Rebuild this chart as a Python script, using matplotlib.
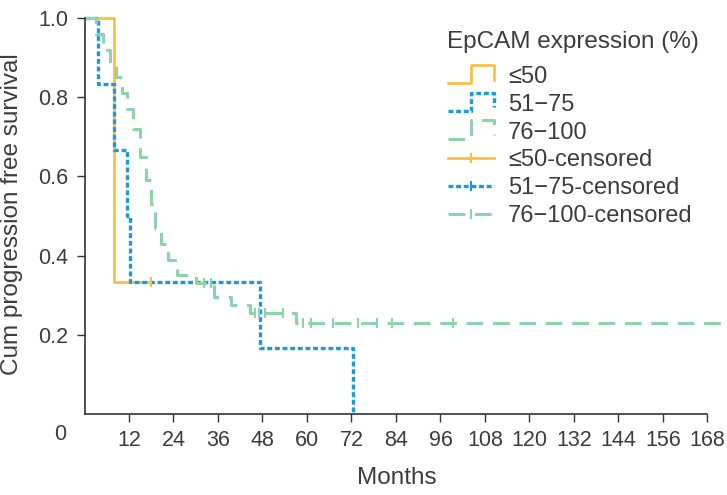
import matplotlib
matplotlib.use("Agg")
import matplotlib.pyplot as plt
from matplotlib.lines import Line2D
from matplotlib.legend_handler import HandlerLine2D

plt.rcParams['font.family'] = ['Liberation Sans', 'DejaVu Sans']
plt.rcParams['lines.scale_dashes'] = False

# Kaplan-Meier step data (time of drop, survival after drop)
low_t = [0, 8, 18]
low_s = [1.0, 0.333, 0.333]
low_cens_t = [18]
low_cens_s = [0.333]

mid_t = [0, 3.7, 8, 11.4, 12.3, 47.3, 72.4]
mid_s = [1.0, 0.833, 0.667, 0.5, 0.333, 0.167, 0.0]

high_t = [0, 3, 5, 7, 8.5, 10, 11.5, 13, 15, 16.5, 18, 19, 20.5, 22.5, 25,
          30, 35, 39.5, 44.5, 57, 173]
high_s = [1.0, 0.96, 0.92, 0.88, 0.85, 0.81, 0.77, 0.72, 0.65, 0.59, 0.53,
          0.47, 0.43, 0.39, 0.35, 0.33, 0.295, 0.275, 0.255, 0.23, 0.23]
high_cens_t = [32.2, 34, 46, 47, 48.7, 53.5, 59, 61, 67, 73.7, 79, 83, 99.4]
high_cens_s = [0.33, 0.33, 0.255, 0.255, 0.255, 0.255, 0.23, 0.23, 0.23,
               0.23, 0.23, 0.23, 0.23]

x_ticks = list(range(12, 169, 12))
y_ticks = [0.2, 0.4, 0.6, 0.8, 1.0]
y_labels = ['0.2', '0.4', '0.6', '0.8', '1.0']
legend_labels = ['≤50', '51−75', '76−100', '≤50-censored', '51−75-censored',
                 '76−100-censored']

ORANGE = '#fbbd3a'
BLUE = '#1a9ad8'
GREEN = '#8dd4aa'
TXT = '#3d3d3d'

BLUE_DASH = (3.5, 2.0)
GREEN_DASH = (12, 7)


class StepHandler(HandlerLine2D):
    # draws the little step glyph used for the survival curves
    def create_artists(self, legend, orig_handle, xdescent, ydescent,
                       width, height, fontsize, trans):
        x0 = -xdescent
        y0 = -ydescent
        xs = [x0, x0 + 0.5 * width, x0 + 0.5 * width, x0 + width, x0 + width]
        ys = [y0, y0, y0 + 1.1 * height, y0 + 1.1 * height, y0 + 0.2 * height]
        line = Line2D(xs, ys)
        self.update_prop(line, orig_handle, legend)
        line.set_marker('None')
        line.set_transform(trans)
        return [line]


fig = plt.figure(figsize=(7.27, 4.95), dpi=100)
ax = fig.add_axes([84.5 / 727, 81 / 495, (726 - 84.5) / 727, 396 / 495])

l1, = ax.step(low_t, low_s, where='post', color=ORANGE, lw=1.9, clip_on=False)
l2, = ax.step(mid_t, mid_s, where='post', color=BLUE, lw=2.4, clip_on=False,
              dashes=BLUE_DASH)
l3, = ax.step(high_t, high_s, where='post', color=GREEN, lw=2.2, clip_on=False,
              dashes=GREEN_DASH)

ax.plot(low_cens_t, low_cens_s, ls='none', marker='|', ms=7, mew=1.5,
        color=ORANGE)
ax.plot(high_cens_t, high_cens_s, ls='none', marker='|', ms=7, mew=1.5,
        color=GREEN)

# legend proxies for censored entries
p1 = Line2D([], [], color=ORANGE, lw=1.9, marker='|', ms=7, mew=1.5)
p2 = Line2D([], [], color=BLUE, lw=2.4, dashes=BLUE_DASH, marker='|', ms=7, mew=1.5)
p3 = Line2D([], [], color=GREEN, lw=2.2, dashes=GREEN_DASH, marker='|', ms=7, mew=1.5)

step_h = StepHandler()
leg = ax.legend([l1, l2, l3, p1, p2, p3], legend_labels,
                frameon=False, numpoints=1,
                loc='upper left', bbox_to_anchor=(448 / 727, 1 - 66 / 495),
                bbox_transform=fig.transFigure, fontsize=17,
                labelspacing=0.245, handlelength=1.95, borderpad=0,
                borderaxespad=0, handletextpad=0.6,
                handler_map={l1: step_h, l2: step_h, l3: step_h})
for t in leg.get_texts():
    t.set_color(TXT)
fig.text(447 / 727, 1 - 42 / 495, 'EpCAM expression (%)', ha='left',
         va='center', fontsize=17.5, color=TXT)

ax.set_xlim(0, 173)
ax.set_ylim(0, 1.0)
ax.set_xticks(x_ticks)
ax.set_yticks(y_ticks)
ax.set_yticklabels(y_labels)
ax.spines['top'].set_visible(False)
ax.spines['right'].set_visible(False)
ax.spines['bottom'].set_bounds(0, 168)
for s in ('left', 'bottom'):
    ax.spines[s].set_color('#333333')
    ax.spines[s].set_linewidth(1.2)
ax.tick_params(axis='both', direction='out', length=5.5, width=1.0,
               colors='#333333', labelcolor=TXT, labelsize=15.5, pad=6)

ax.text(-6.6, -0.053, '0', ha='center', va='center', fontsize=15.5,
        color=TXT, clip_on=False)
fig.text(12 / 727, 1 - 214 / 495, 'Cum progression free survival',
         rotation=90, ha='center', va='center', fontsize=17.5, color=TXT)
fig.text(397 / 727, 1 - 478 / 495, 'Months', ha='center', va='center',
         fontsize=17.5, color=TXT)

fig.savefig('out.png', dpi=100)
